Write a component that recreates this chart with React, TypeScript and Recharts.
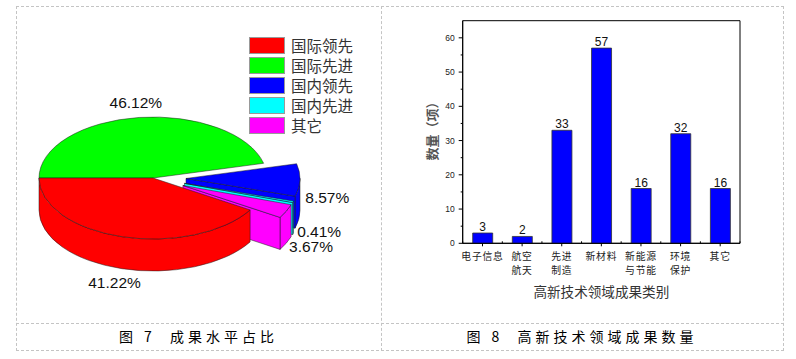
import React from 'react';
import { PieChart, Pie, Cell, BarChart, Bar, XAxis, YAxis, LabelList, ReferenceArea, Label } from 'recharts';

// 图7 成果水平占比
const levels = ['国际领先', '国际先进', '国内领先', '国内先进', '其它'];
const levelShares = [41.22, 46.12, 8.57, 0.41, 3.67];
const levelColors = ['#ff0000', '#00ff00', '#0000ff', '#00ffff', '#ff00ff'];

// 图8 高新技术领域成果数量
const fields = ['电子信息', '航空\n航天', '先进\n制造', '新材料', '新能源\n与节能', '环境\n保护', '其它'];
const fieldCounts = [3, 2, 33, 57, 16, 32, 16];
const countTicks = [0, 5, 10, 15, 20, 25, 30, 35, 40, 45, 50, 55, 60];

// slices drawn back to front (green, blue, cyan, magenta, red)
const drawOrder = [1, 2, 3, 4, 0];
const pieData = drawOrder.map((i) => ({ name: levels[i], value: levelShares[i], fill: levelColors[i] }));
const barData = fields.map((f, i) => ({ field: f, count: fieldCounts[i] }));

const TILT = 61 / 114;
const DEPTH = 32;
const EXPLODE = 33;
const exploded = new Set(['国内领先', '国内先进', '其它']);
const EDGE = '#1a1a1a';
const rad = Math.PI / 180;

function Slice3D(props: any) {
  const { cx, cy, outerRadius: r, startAngle, endAngle, fill } = props;
  const name = props.payload?.name ?? props.name;
  const a1 = Math.min(startAngle, endAngle);
  const a2 = Math.max(startAngle, endAngle);
  const mid = (a1 + a2) / 2;
  const ex = exploded.has(name) ? EXPLODE : 0;
  const ox = cx + ex * Math.cos(mid * rad);
  const oy = cy - ex * Math.sin(mid * rad) * TILT;
  const ry = r * TILT;
  const P = (a: number, z = 0) => `${ox + r * Math.cos(a * rad)},${oy - ry * Math.sin(a * rad) + z}`;
  const large = a2 - a1 > 180 ? 1 : 0;

  const parts: React.ReactNode[] = [];
  // front outer wall
  const b1 = Math.max(a1, -180);
  const b2 = Math.min(a2, 0);
  if (b2 > b1) {
    const lg = b2 - b1 > 180 ? 1 : 0;
    parts.push(
      <path key="wall" fill={fill} stroke={EDGE} strokeWidth={0.5}
        d={`M${P(b1)} A${r},${ry} 0 ${lg} 0 ${P(b2)} L${P(b2, DEPTH)} A${r},${ry} 0 ${lg} 1 ${P(b1, DEPTH)} Z`} />
    );
  }
  // cut faces of exploded slices
  if (ex > 0) {
    const face = (a: number, k: string) => (
      <path key={k} fill={fill} stroke={EDGE} strokeWidth={0.5}
        d={`M${ox},${oy} L${P(a)} L${P(a, DEPTH)} L${ox},${oy + DEPTH} Z`} />
    );
    if (Math.cos(a1 * rad) > 0) parts.push(face(a1, 'f1'));
    if (Math.cos(a2 * rad) < 0) parts.push(face(a2, 'f2'));
  }
  parts.push(
    <path key="top" fill={fill} stroke={EDGE} strokeWidth={0.5}
      d={`M${ox},${oy} L${P(a1)} A${r},${ry} 0 ${large} 0 ${P(a2)} Z`} />
  );
  return <g>{parts}</g>;
}

function PieLabel(props: any) {
  const { cx, cy, midAngle, outerRadius: r, payload, name } = props;
  const nm = payload?.name ?? name;
  const ex = exploded.has(nm) ? EXPLODE : 0;
  const c = Math.cos(midAngle * rad);
  const s = Math.sin(midAngle * rad);
  const k = 1.24;
  let x = cx + (ex + r * k) * c;
  let y = cy - (ex + r * k) * s * TILT;
  if (s < 0.05) y += DEPTH * Math.min(1, 0.5 - s);
  const v = payload?.value ?? props.value;
  return (
    <text x={x} y={y} textAnchor="middle" dominantBaseline="central"
      fontFamily="'Liberation Sans', Arial, sans-serif" fontSize={15.5} fill="#111">
      {v.toFixed(2)}%
    </text>
  );
}

function YTick(props: any) {
  const { x, y, payload } = props;
  const major = payload.value % 10 === 0;
  return (
    <g>
      <line x1={major ? x + 3 : x + 5} x2={x + 7} y1={y} y2={y} stroke="#000" strokeWidth={1} />
      {major && (
        <text x={x - 1} y={y} textAnchor="end" dominantBaseline="central"
          fontFamily="'Liberation Sans', Arial, sans-serif" fontSize={8.5} fill="#222">
          {payload.value}
        </text>
      )}
    </g>
  );
}

function XTick(props: any) {
  const { x, y, payload, width, visibleTicksCount, index } = props;
  const axisY = y - 7;
  const bw = width && visibleTicksCount ? width / visibleTicksCount : 39.6;
  const lines = String(payload.value).split('\n');
  return (
    <g>
      <line x1={x - bw / 2} x2={x - bw / 2} y1={axisY} y2={axisY - 2} stroke="#000" />
      {index === visibleTicksCount - 1 && (
        <line x1={x + bw / 2} x2={x + bw / 2} y1={axisY} y2={axisY - 2} stroke="#000" />
      )}
      {lines.map((t, i) => (
        <text key={i} x={x} y={axisY + 12.7 + i * 14.2} textAnchor="middle" dominantBaseline="central"
          fontFamily="'Noto Sans CJK SC', sans-serif" fontSize={9.8} letterSpacing={0.8} fill="#222">
          {t}
        </text>
      ))}
    </g>
  );
}

const dashed = '1px dashed #c4c4c4';
const captionStyle: React.CSSProperties = {
  position: 'absolute', top: 323, height: 27, lineHeight: '27px', textAlign: 'center',
  fontFamily: "'Noto Sans CJK SC', serif", fontSize: 14, letterSpacing: 4, whiteSpace: 'pre',
  color: '#000', fontWeight: 400,
};

export default function App() {
  return (
    <div style={{ position: 'absolute', left: 0, top: 0, width: 796, height: 359, background: '#fff', fontFamily: "'Noto Sans CJK SC', sans-serif" }}>
      <div style={{ position: 'absolute', left: 16, top: 6, width: 768, height: 345, border: dashed, boxSizing: 'border-box' }} />
      <div style={{ position: 'absolute', left: 381, top: 6, height: 345, borderLeft: dashed }} />
      <div style={{ position: 'absolute', left: 16, top: 323, width: 768, borderTop: dashed }} />

      <div style={{ position: 'absolute', left: 16, top: 6 }}>
        <PieChart width={365} height={317} margin={{ top: 0, right: 0, bottom: 0, left: 0 }}>
          <Pie data={pieData} dataKey="value" nameKey="name" cx={137} cy={172} outerRadius={114}
            startAngle={180} endAngle={-180} isAnimationActive={false} stroke="none"
            shape={Slice3D} label={PieLabel} labelLine={false}>
            {pieData.map((d) => <Cell key={d.name} fill={d.fill} />)}
          </Pie>
        </PieChart>
        <div style={{ position: 'absolute', left: 233, top: 30 }}>
          {levels.map((l, i) => (
            <div key={l} style={{ display: 'flex', alignItems: 'center', height: 19.8 }}>
              <div style={{ width: 36, height: 17, background: levelColors[i], border: '1px solid #999', boxSizing: 'border-box' }} />
              <span style={{ marginLeft: 6, fontSize: 15.5, color: '#333', lineHeight: '17px' }}>{l}</span>
            </div>
          ))}
        </div>
      </div>

      <div style={{ position: 'absolute', left: 381, top: 6 }}>
        <BarChart width={402} height={317} data={barData} margin={{ top: 14.7, right: 43, left: 0, bottom: 19.7 }}>
          <ReferenceArea y1={0} y2={65} fill="none" stroke="#000" strokeWidth={1} ifOverflow="visible" />
          <XAxis dataKey="field" interval={0} height={60} tickSize={3} tickMargin={4}
            axisLine={{ stroke: '#000' }} tickLine={{ stroke: '#000' }} tick={<XTick />}>
            <Label content={(p: any) => (
              <text x={p.viewBox.x + p.viewBox.width / 2} y={p.viewBox.y + 48} textAnchor="middle"
                dominantBaseline="central" fontSize={13.6} fill="#333" fontFamily="'Noto Sans CJK SC', sans-serif">
                高新技术领域成果类别
              </text>
            )} />
          </XAxis>
          <YAxis domain={[0, 65]} ticks={countTicks} interval={0} width={81.7} tickSize={4} tickMargin={3}
            allowDataOverflow axisLine={{ stroke: '#000' }} tickLine={false} tick={<YTick />}>
            <Label content={(p: any) => {
              const cx = p.viewBox.x + 50;
              const cy = p.viewBox.y + p.viewBox.height / 2 - 4;
              return (
                <text x={cx} y={cy} transform={`rotate(-90 ${cx} ${cy})`} textAnchor="middle"
                  dominantBaseline="central" fontSize={13} fill="#555" fontWeight={600}
                  fontFamily="'Noto Sans CJK SC', sans-serif">
                  数量（项）
                </text>
              );
            }} />
          </YAxis>
          <Bar dataKey="count" fill="#0000ff" stroke="#333" strokeWidth={0.8} barSize={20} isAnimationActive={false}>
            <LabelList dataKey="count" position="top" offset={2} fontSize={12} fill="#111"
              fontFamily="'Liberation Sans', Arial, sans-serif" />
          </Bar>
        </BarChart>
      </div>

      <div style={{ ...captionStyle, left: 16, width: 365 }}>{'图 7  成果水平占比'}</div>
      <div style={{ ...captionStyle, left: 381, width: 402 }}>{'图 8  高新技术领域成果数量'}</div>
    </div>
  );
}
